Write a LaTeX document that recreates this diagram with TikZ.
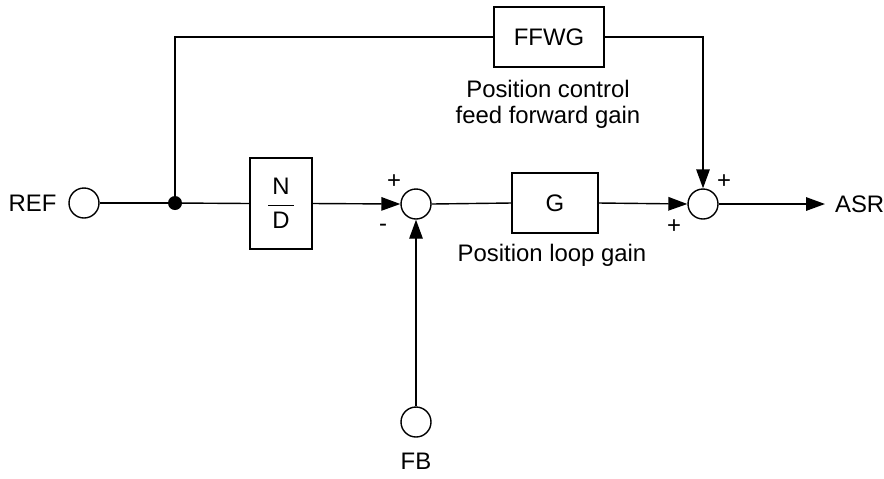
\documentclass[tikz,border=0pt]{standalone}
\usepackage{fontspec}
\setmainfont{Liberation Sans}
\usepackage{amsmath}
\usepackage{tikz}
\usetikzlibrary{arrows.meta, positioning, calc}

\begin{document}
\begin{tikzpicture}[
    x=0.02cm, y=-0.02cm,
    every node/.style={font=\fontsize{13.6}{16}\selectfont},
    port/.style={circle, draw, minimum size=0.6cm, inner sep=0pt},
    sumpoint/.style={circle, draw, minimum size=0.6cm, inner sep=0pt},
    block/.style={rectangle, draw, inner sep=0pt},
    junction/.style={circle, fill, minimum size=0.28cm, inner sep=0pt},
    sign/.style={inner sep=0pt},
    arrow/.style={-{Triangle[length=3.8mm,width=2.7mm]}},
    line width=0.8pt
]
    \useasboundingbox (0,0) rectangle (884,478);

    % Input
    \node[port] (ref) at (84,203) {};
    \node[left=3pt of ref] (reflabel) {REF};
    \node[junction] (split) at (175,203) {};

    % Blocks
    \node[block, minimum width=1.24cm, minimum height=1.82cm] (nd) at (281,203.5)
        {$\dfrac{\,\text{N}\,}{\,\text{D}\,}$};
    \node[block, minimum width=1.72cm, minimum height=1.2cm] (g) at (555,203) {G};
    \node[block, minimum width=2.2cm, minimum height=1.2cm] (ffwg) at (549,37) {FFWG};

    % Summing points
    \node[sumpoint] (sum1) at (416,204) {};
    \node[sumpoint] (sum2) at (703,204) {};
    \node[port] (fb) at (416,422) {};
    \node[below=5pt of fb] (fblabel) {FB};
    \coordinate (out) at (825,204);
    \node[right=2pt of out] (asr) {ASR};

    % Signs
    \node[sign] at (394,182) {+};
    \node[sign] at (383,228) {-};
    \node[sign] at (724,182) {+};
    \node[sign] at (674,227) {+};

    % Captions
    \node[align=center, font=\fontsize{13.6}{15}\selectfont] (ffwgtext) at (548,104)
        {Position control\\feed forward gain};
    \node (gtext) at (552,255) {Position loop gain};

    % Signal lines
    \draw (ref.east) -- (split.center);
    \draw (split.center) -- (nd.west);
    \draw[arrow] (nd.east) -- (sum1.west);
    \draw[arrow] (fb.north) -- (sum1.south);
    \draw (sum1.east) -- (g.west);
    \draw[arrow] (g.east) -- (sum2.west);
    \draw[arrow] (sum2.east) -- (out);
    \draw (split.center) |- (ffwg.west);
    \draw[arrow] (ffwg.east) -| (sum2.north);

\end{tikzpicture}
\end{document}
